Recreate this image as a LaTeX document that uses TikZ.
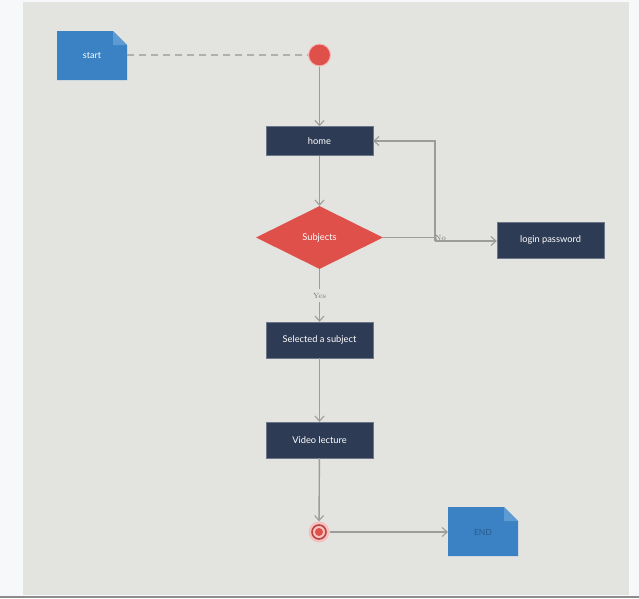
\documentclass[tikz,border=0pt]{standalone}
\usepackage{fontspec}
\setmainfont{Lato}
\newfontfamily\lblfont{Latin Modern Roman}
\usetikzlibrary{shapes.geometric,arrows.meta,calc}
\definecolor{pagebg}{HTML}{F7F8FA}
\definecolor{canvas}{HTML}{E3E3E0}
\definecolor{navy}{HTML}{2E3B55}
\definecolor{redd}{HTML}{DE5049}
\definecolor{notebl}{HTML}{3A82C4}
\definecolor{notefold}{HTML}{5E9BD3}
\definecolor{linegr}{HTML}{9C9C9A}
\definecolor{endtxt}{HTML}{2A5C8C}
\tikzset{
  x=1pt,y=-1pt,
  box/.style={fill=navy,draw=navy!70!white,line width=0.4pt,minimum width=107pt,minimum height=36pt,inner sep=0pt,text=white,font=\fontsize{9.3}{11}\selectfont},
  conn/.style={draw=linegr,line width=1.4pt,-{Straight Barb[length=5pt,width=9pt,line width=1.1pt]}},
  plain/.style={draw=linegr,line width=1.4pt},
  lbl/.style={font=\lblfont\fontsize{7.5}{9}\selectfont,text=black!55,inner sep=1pt},
}
\begin{document}
\begin{tikzpicture}
\useasboundingbox (0,0) rectangle (639,598);
\fill[pagebg] (0,0) rectangle (639,598);
\fill[canvas] (23,2) rectangle (629,595);
\fill[black!45] (0,596) rectangle (639,598);
% start note
\fill[notebl] (57,31) -- (113,31) -- (127,45) -- (127,80) -- (57,80) -- cycle;
\fill[notefold] (113,31) -- (127,45) -- (113,45) -- cycle;
\node[text=white,font=\fontsize{9}{10}\selectfont] (start) at (92,56) {start};
\coordinate (startE) at (127,55);
% start circle
\node[circle,fill=redd,draw=redd!40!white,line width=1pt,minimum size=22pt,inner sep=0pt] (init) at (319.5,55) {};
% boxes
\node[box,minimum height=29pt] (home) at (319.5,141) {home};
\node[diamond,fill=redd,aspect=2,minimum width=127pt,minimum height=63pt,inner sep=0pt,text=white,font=\fontsize{9.3}{11}\selectfont] (subj) at (319.5,237.5) {Subjects};
\node[box] (login) at (550.5,240) {login password};
\node[box] (sel) at (319.5,340) {Selected a subject};
\node[box] (video) at (319.5,440) {Video lecture};
% end circle
\node[circle,fill=redd!35!white,minimum size=21pt,inner sep=0pt] (final) at (319,532) {};
\node[circle,draw=redd!85!black,line width=1.6pt,minimum size=14pt,inner sep=0pt] at (final) {};
\node[circle,fill=redd,minimum size=8pt,inner sep=0pt] at (final) {};
% END note
\fill[notebl] (448,507) -- (504,507) -- (518,521) -- (518,556) -- (448,556) -- cycle;
\fill[notefold] (504,507) -- (518,521) -- (504,521) -- cycle;
\node[text=endtxt,font=\fontsize{8.5}{10}\selectfont] (endn) at (483,532) {END};
\coordinate (endW) at (448,532);
% connectors
\draw[draw=linegr!80,line width=1.3pt,dash pattern=on 7pt off 5pt] (startE) -- (init.west);
\draw[conn] (init) -- (home);
\draw[conn] (home) -- (subj);
\coordinate (jA) at (435,237.5);
\coordinate (jB) at (435,241);
\draw[plain] (subj.east) -- (jA) -- (jB);
\draw[conn] (jB) -- (login.west|-jB);
\draw[conn] (jB) |- (home.east);
\node[lbl,anchor=west] at (434,238) {No};
\coordinate (yesl) at (319.5,295.5);
\draw[plain] (subj.south) -- (319.5,289);
\draw[conn] (319.5,302) -- (sel.north);
\node[lbl] at (yesl) {Yes};
\draw[conn] (sel) -- (video);
\draw[conn] (video) -- (final);
\draw[conn] (final) -- (endW);
\end{tikzpicture}
\end{document}
